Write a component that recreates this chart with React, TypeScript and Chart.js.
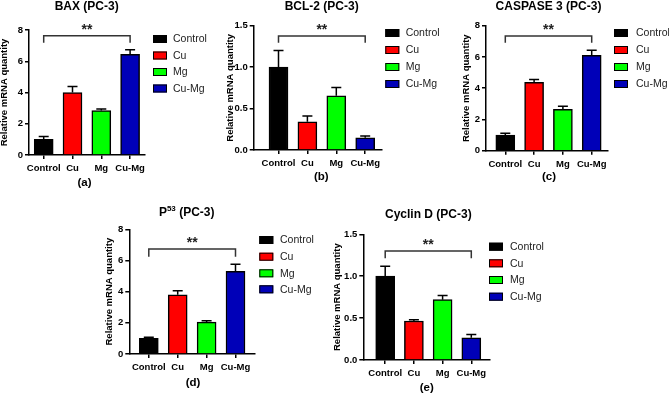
import React, { useEffect, useRef } from 'react';
import { Chart, registerables } from 'chart.js';
Chart.register(...registerables);

const categories = ['Control', 'Cu', 'Mg', 'Cu-Mg'];
const barColors = ['#000000', '#ff0000', '#00ff00', '#0000b8'];

const baxValues = [1.0, 4.0, 2.85, 6.45];
const baxErrors = [0.18, 0.38, 0.1, 0.28];
const bcl2Values = [1.0, 0.34, 0.655, 0.148];
const bcl2Errors = [0.2, 0.07, 0.1, 0.02];
const caspValues = [1.0, 4.38, 2.65, 6.1];
const caspErrors = [0.12, 0.17, 0.2, 0.33];
const p53Values = [1.0, 3.8, 2.05, 5.3];
const p53Errors = [0.08, 0.25, 0.08, 0.45];
const cyclinValues = [1.0, 0.465, 0.72, 0.265];
const cyclinErrors = [0.12, 0.015, 0.05, 0.04];

// significance bracket level and bracket leg end (data units)
const baxBracket = [7.63, 7.19];
const bcl2Bracket = [1.376, 1.295];
const caspBracket = [7.34, 6.91];
const p53Bracket = [6.73, 6.24];
const cyclinBracket = [1.3, 1.214];

const FONT = 'Liberation Sans, Arial, sans-serif';

type Panel = {
  title: string;
  sup?: string;
  titleRest?: string;
  letter: string;
  values: number[];
  errors: number[];
  bracket: number[];
  yMax: number;
  yStep: number;
  decimals: number;
  canvas: { x: number; y: number; w: number; h: number };
  area: { l: number; r: number; t: number; b: number };
  first: number;
  spacing: number;
  titlePos: [number, number];
  yLabelX: number;
  letterPos: [number, number];
  legend: { boxX: number; textX: number; rows: number[] };
};

const panels: Panel[] = [
  {
    title: 'BAX (PC-3)', letter: '(a)', values: baxValues, errors: baxErrors, bracket: baxBracket,
    yMax: 8, yStep: 2, decimals: 0,
    canvas: { x: 0, y: 0, w: 223, h: 200 },
    area: { l: 29, r: 145, t: 30, b: 155 },
    first: 43.7, spacing: 28.8,
    titlePos: [86.7, 7], yLabelX: 4.5, letterPos: [84.5, 183],
    legend: { boxX: 153, textX: 173, rows: [39, 55.5, 72, 88.5] },
  },
  {
    title: 'BCL-2 (PC-3)', letter: '(b)', values: bcl2Values, errors: bcl2Errors, bracket: bcl2Bracket,
    yMax: 1.5, yStep: 0.5, decimals: 1,
    canvas: { x: 223, y: 0, w: 223, h: 200 },
    area: { l: 253.7, r: 381.3, t: 25.7, b: 150 },
    first: 278.5, spacing: 28.9,
    titlePos: [321.7, 7], yLabelX: 230.5, letterPos: [321.3, 176.7],
    legend: { boxX: 385.3, textX: 405.7, rows: [33, 50, 67, 84] },
  },
  {
    title: 'CASPASE 3 (PC-3)', letter: '(c)', values: caspValues, errors: caspErrors, bracket: caspBracket,
    yMax: 8, yStep: 2, decimals: 0,
    canvas: { x: 446, y: 0, w: 223, h: 200 },
    area: { l: 486, r: 607.7, t: 25.7, b: 150.7 },
    first: 505.3, spacing: 28.8,
    titlePos: [548.5, 7], yLabelX: 466, letterPos: [549, 176.7],
    legend: { boxX: 614, textX: 636, rows: [33, 50, 67, 84] },
  },
  {
    title: 'P', sup: '53', titleRest: ' (PC-3)', letter: '(d)', values: p53Values, errors: p53Errors, bracket: p53Bracket,
    yMax: 8, yStep: 2, decimals: 0,
    canvas: { x: 90, y: 200, w: 240, h: 193 },
    area: { l: 129.3, r: 255, t: 229.3, b: 354 },
    first: 148.8, spacing: 28.9,
    titlePos: [186.7, 212.3], yLabelX: 109, letterPos: [193, 382.7],
    legend: { boxX: 259.3, textX: 280, rows: [240, 256.7, 273.3, 289.3] },
  },
  {
    title: 'Cyclin D (PC-3)', letter: '(e)', values: cyclinValues, errors: cyclinErrors, bracket: cyclinBracket,
    yMax: 1.5, yStep: 0.5, decimals: 1,
    canvas: { x: 330, y: 200, w: 230, h: 193 },
    area: { l: 363.3, r: 489.3, t: 234.3, b: 360 },
    first: 385.2, spacing: 28.7,
    titlePos: [428.3, 215], yLabelX: 337.5, letterPos: [426.7, 387.7],
    legend: { boxX: 489, textX: 510, rows: [246.7, 263.3, 280, 296.7] },
  },
];

function makeDecor(p: Panel) {
  return {
    id: 'decor',
    afterDatasetsDraw(chart: any) {
      const ctx = chart.ctx as CanvasRenderingContext2D;
      const xs = chart.scales.x, ys = chart.scales.y;
      const meta = chart.getDatasetMeta(0);
      ctx.save();
      // error bars
      ctx.strokeStyle = '#000';
      ctx.lineWidth = 1.5;
      meta.data.forEach((bar: any, i: number) => {
        const x = bar.x;
        const yv = ys.getPixelForValue(p.values[i]);
        const ye = ys.getPixelForValue(p.values[i] + p.errors[i]);
        ctx.beginPath();
        ctx.moveTo(x, yv);
        ctx.lineTo(x, ye);
        ctx.moveTo(x - 5, ye);
        ctx.lineTo(x + 5, ye);
        ctx.stroke();
      });
      // bracket
      const xl = xs.getPixelForValue(0), xr = xs.getPixelForValue(categories.length - 1);
      const yb = ys.getPixelForValue(p.bracket[0]);
      const yt = ys.getPixelForValue(p.bracket[1]);
      ctx.strokeStyle = '#333';
      ctx.beginPath();
      ctx.moveTo(xl, yt);
      ctx.lineTo(xl, yb);
      ctx.lineTo(xr, yb);
      ctx.lineTo(xr, yt);
      ctx.stroke();
      ctx.fillStyle = '#222';
      ctx.font = `bold 14px ${FONT}`;
      ctx.textAlign = 'center';
      ctx.textBaseline = 'middle';
      ctx.fillText('**', (xl + xr) / 2, yb - 5.5);
      ctx.restore();
    },
    afterDraw(chart: any) {
      const ctx = chart.ctx as CanvasRenderingContext2D;
      const ox = p.canvas.x, oy = p.canvas.y;
      const area = chart.chartArea;
      ctx.save();
      ctx.fillStyle = '#000';
      // title
      ctx.textBaseline = 'middle';
      if (p.sup) {
        const big = `bold 12px ${FONT}`, small = `bold 8px ${FONT}`;
        ctx.font = big;
        const w1 = ctx.measureText(p.title).width;
        const w3 = ctx.measureText(p.titleRest || '').width;
        ctx.font = small;
        const w2 = ctx.measureText(p.sup).width;
        let x = p.titlePos[0] - ox - (w1 + w2 + w3) / 2;
        const y = p.titlePos[1] - oy;
        ctx.textAlign = 'left';
        ctx.font = big;
        ctx.fillText(p.title, x, y);
        x += w1;
        ctx.font = small;
        ctx.fillText(p.sup, x, y - 3.5);
        x += w2;
        ctx.font = big;
        ctx.fillText(p.titleRest || '', x, y);
      } else {
        ctx.font = `bold 12px ${FONT}`;
        ctx.textAlign = 'center';
        ctx.fillText(p.title, p.titlePos[0] - ox, p.titlePos[1] - oy);
      }
      // y axis label
      ctx.save();
      ctx.translate(p.yLabelX - ox, (area.top + area.bottom) / 2);
      ctx.rotate(-Math.PI / 2);
      ctx.font = `bold 9.5px ${FONT}`;
      ctx.textAlign = 'center';
      ctx.fillText('Relative mRNA quantity', 0, 0);
      ctx.restore();
      // panel letter
      ctx.font = `bold 11.5px ${FONT}`;
      ctx.textAlign = 'center';
      ctx.fillText(p.letter, p.letterPos[0] - ox, p.letterPos[1] - oy);
      // legend
      categories.forEach((c, i) => {
        const cy = p.legend.rows[i] - oy;
        const bx = p.legend.boxX - ox;
        ctx.fillStyle = barColors[i];
        ctx.fillRect(bx, cy - 4, 14, 8);
        ctx.strokeStyle = '#000';
        ctx.lineWidth = 1;
        ctx.strokeRect(bx + 0.5, cy - 3.5, 13, 7);
        ctx.fillStyle = '#222';
        ctx.font = `10.5px ${FONT}`;
        ctx.textAlign = 'left';
        ctx.fillText(c, p.legend.textX - ox, cy + 0.5);
      });
      ctx.restore();
    },
  };
}

function PanelChart({ p }: { p: Panel }) {
  const ref = useRef<HTMLCanvasElement | null>(null);
  useEffect(() => {
    if (!ref.current) return;
    const yWidth = p.area.l - p.canvas.x;
    const padTop = p.area.t - p.canvas.y;
    const padRight = p.canvas.x + p.canvas.w - p.area.r;
    const xHeight = p.canvas.y + p.canvas.h - p.area.b;
    const n = categories.length;
    const xMin = -(p.first - p.area.l) / p.spacing;
    const xMax = n - 1 + (p.area.r - (p.first + (n - 1) * p.spacing)) / p.spacing;
    const tickFont = { family: FONT, size: 9.5, weight: 'bold' as const };
    const gridOpts = {
      display: true,
      drawOnChartArea: false,
      drawTicks: true,
      tickLength: 4,
      color: '#000',
      lineWidth: 1.5,
      offset: false,
    };
    const borderOpts = { display: true, color: '#000', width: 1.5 };
    const chart = new Chart(ref.current, {
      type: 'bar',
      data: {
        datasets: [
          {
            label: 'values',
            data: categories.map((c, i) => ({ x: i, y: p.values[i] })),
            backgroundColor: barColors,
            borderColor: '#000',
            borderWidth: 1.5,
            barThickness: 19,
          } as any,
        ],
      },
      options: {
        responsive: false,
        animation: false,
        devicePixelRatio: 1,
        layout: { padding: { left: 0, top: padTop, right: padRight, bottom: 0 } },
        plugins: {
          legend: { display: false },
          tooltip: { enabled: false },
          title: { display: false },
        },
        scales: {
          x: {
            type: 'linear',
            offset: false,
            min: xMin,
            max: xMax,
            afterFit: (s: any) => {
              s.height = xHeight;
            },
            afterBuildTicks: (s: any) => {
              s.ticks = categories.map((c, i) => ({ value: i }));
            },
            ticks: {
              callback: (v: any) => categories[Math.round(Number(v))] ?? '',
              font: tickFont,
              color: '#000',
              padding: 4,
              autoSkip: false,
              maxRotation: 0,
            },
            grid: gridOpts,
            border: borderOpts,
          },
          y: {
            min: 0,
            max: p.yMax,
            afterFit: (s: any) => {
              s.width = yWidth;
            },
            ticks: {
              stepSize: p.yStep,
              callback: (v: any) => Number(v).toFixed(p.decimals),
              font: tickFont,
              color: '#000',
              padding: 2,
            },
            grid: gridOpts,
            border: borderOpts,
          },
        } as any,
      },
      plugins: [makeDecor(p)],
    });
    return () => chart.destroy();
  }, [p]);
  return (
    <canvas
      ref={ref}
      width={p.canvas.w}
      height={p.canvas.h}
      style={{
        position: 'absolute',
        left: p.canvas.x,
        top: p.canvas.y,
        width: p.canvas.w,
        height: p.canvas.h,
      }}
    />
  );
}

export default function App() {
  return (
    <div
      style={{
        position: 'fixed',
        left: 0,
        top: 0,
        width: 669,
        height: 393,
        background: '#fff',
        overflow: 'hidden',
      }}
    >
      {panels.map((p) => (
        <PanelChart key={p.letter} p={p} />
      ))}
    </div>
  );
}
